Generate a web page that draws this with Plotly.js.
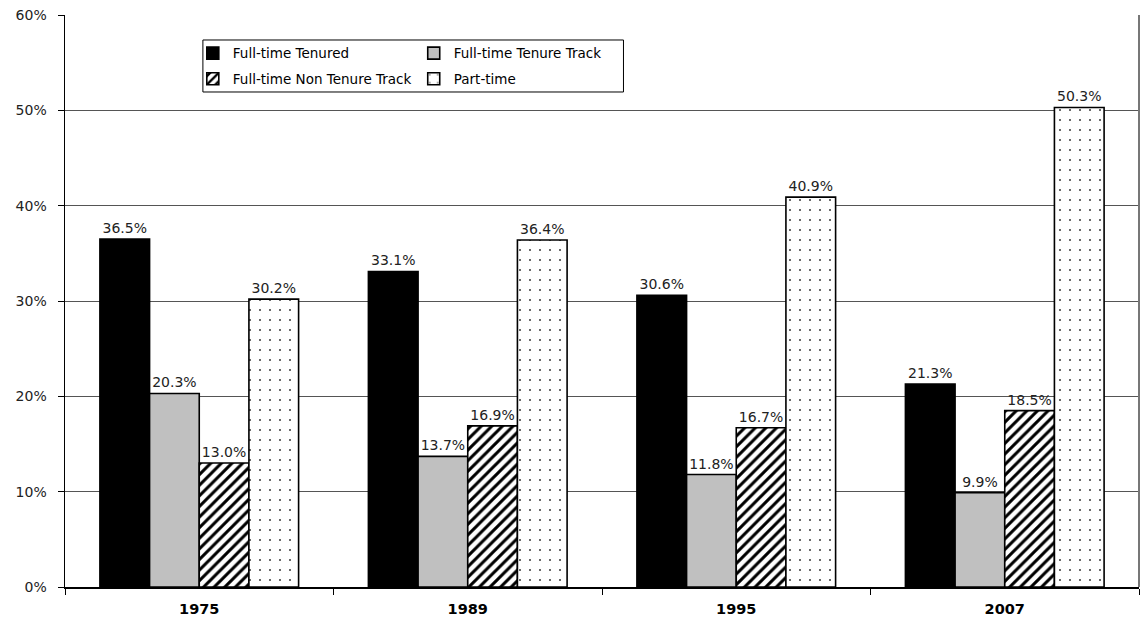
<!DOCTYPE html>
<html>
<head>
<meta charset="utf-8">
<script src="https://cdn.plot.ly/plotly-3.0.1.min.js"></script>
<style>html,body{margin:0;padding:0;background:#fff;}#chart{width:1141px;height:622px;}</style>
</head>
<body>
<div id="chart"></div>
<script>
const years = ['1975', '1989', '1995', '2007'];
const tenured = [36.5, 33.1, 30.6, 21.3];
const tenureTrack = [20.3, 13.7, 11.8, 9.9];
const nonTenureTrack = [13.0, 16.9, 16.7, 18.5];
const partTime = [30.2, 36.4, 40.9, 50.3];
const yTicks = [0, 10, 20, 30, 40, 50, 60];
const yTickText = yTicks.map(v => v + '%');

const FONT = 'DejaVu Sans, Verdana, sans-serif';
const outline = {color: '#000', width: 1.6};
function bar(name, vals, marker, legend, group) {
  return {
    type: 'bar', name: name, x: years, y: vals,
    marker: Object.assign({line: outline}, marker),
    texttemplate: '%{y:.1f}%', textposition: 'outside',
    textfont: {family: FONT, size: 14, color: '#222'},
    cliponaxis: false, hoverinfo: 'skip',
    legend: legend, legendgroup: group
  };
}
const data = [
  bar('Full-time Tenured', tenured, {color: '#000'}, 'legend', 'a'),
  bar('Full-time Tenure Track', tenureTrack, {color: '#c0c0c0'}, 'legend2', 'b'),
  bar('Full-time Non Tenure Track', nonTenureTrack,
      {color: '#fff', pattern: {shape: '/', fgcolor: '#000', bgcolor: '#fff', size: 7.5, solidity: 0.4}}, 'legend', 'c'),
  bar('Part-time', partTime,
      {color: '#fff', pattern: {shape: '.', fgcolor: '#222', bgcolor: '#fff', size: 10, solidity: 0.025}}, 'legend2', 'd')
];

const legendCommon = {
  orientation: 'v', xanchor: 'left', yanchor: 'top',
  font: {family: FONT, size: 13.5, color: '#000'},
  bgcolor: 'rgba(0,0,0,0)', borderwidth: 0, tracegroupgap: 5,
  itemwidth: 30
};

const layout = {
  width: 1141, height: 622,
  margin: {l: 65, r: 2, t: 15, b: 35},
  paper_bgcolor: '#fff', plot_bgcolor: '#fff',
  barmode: 'group', bargap: 0.26, bargroupgap: 0,
  font: {family: FONT, color: '#222'},
  showlegend: true,
  legend: Object.assign({x: 0.119, y: 0.960}, legendCommon),
  legend2: Object.assign({x: 0.3247, y: 0.960}, legendCommon),
  xaxis: {
    type: 'category', showline: true, linecolor: '#000', linewidth: 1.5,
    ticks: 'outside', tickson: 'boundaries', ticklen: 6, tickcolor: '#000',
    showgrid: false, zeroline: false, ticklabelstandoff: 8,
    tickfont: {family: FONT, size: 14.5, color: '#000', weight: 'bold'}
  },
  yaxis: {
    range: [0, 60], tickmode: 'array', tickvals: yTicks, ticktext: yTickText,
    showline: true, linecolor: '#000', linewidth: 1.5,
    ticks: 'outside', ticklen: 6, tickcolor: '#000', ticklabelstandoff: 8,
    showgrid: true, gridcolor: '#555', gridwidth: 1, zeroline: false,
    tickfont: {family: FONT, size: 14, color: '#222'}
  },
  shapes: [
    {type: 'line', xref: 'paper', yref: 'paper', x0: 1, x1: 1, y0: 0, y1: 1,
     line: {color: '#777', width: 2}},
    {type: 'rect', xref: 'paper', yref: 'paper', x0: 0.1284, x1: 0.52, y0: 0.8654, y1: 0.9563,
     line: {color: '#000', width: 1}, fillcolor: 'rgba(0,0,0,0)'}
  ]
};

Plotly.newPlot('chart', data, layout, {displayModeBar: false, staticPlot: true});
</script>
</body>
</html>
